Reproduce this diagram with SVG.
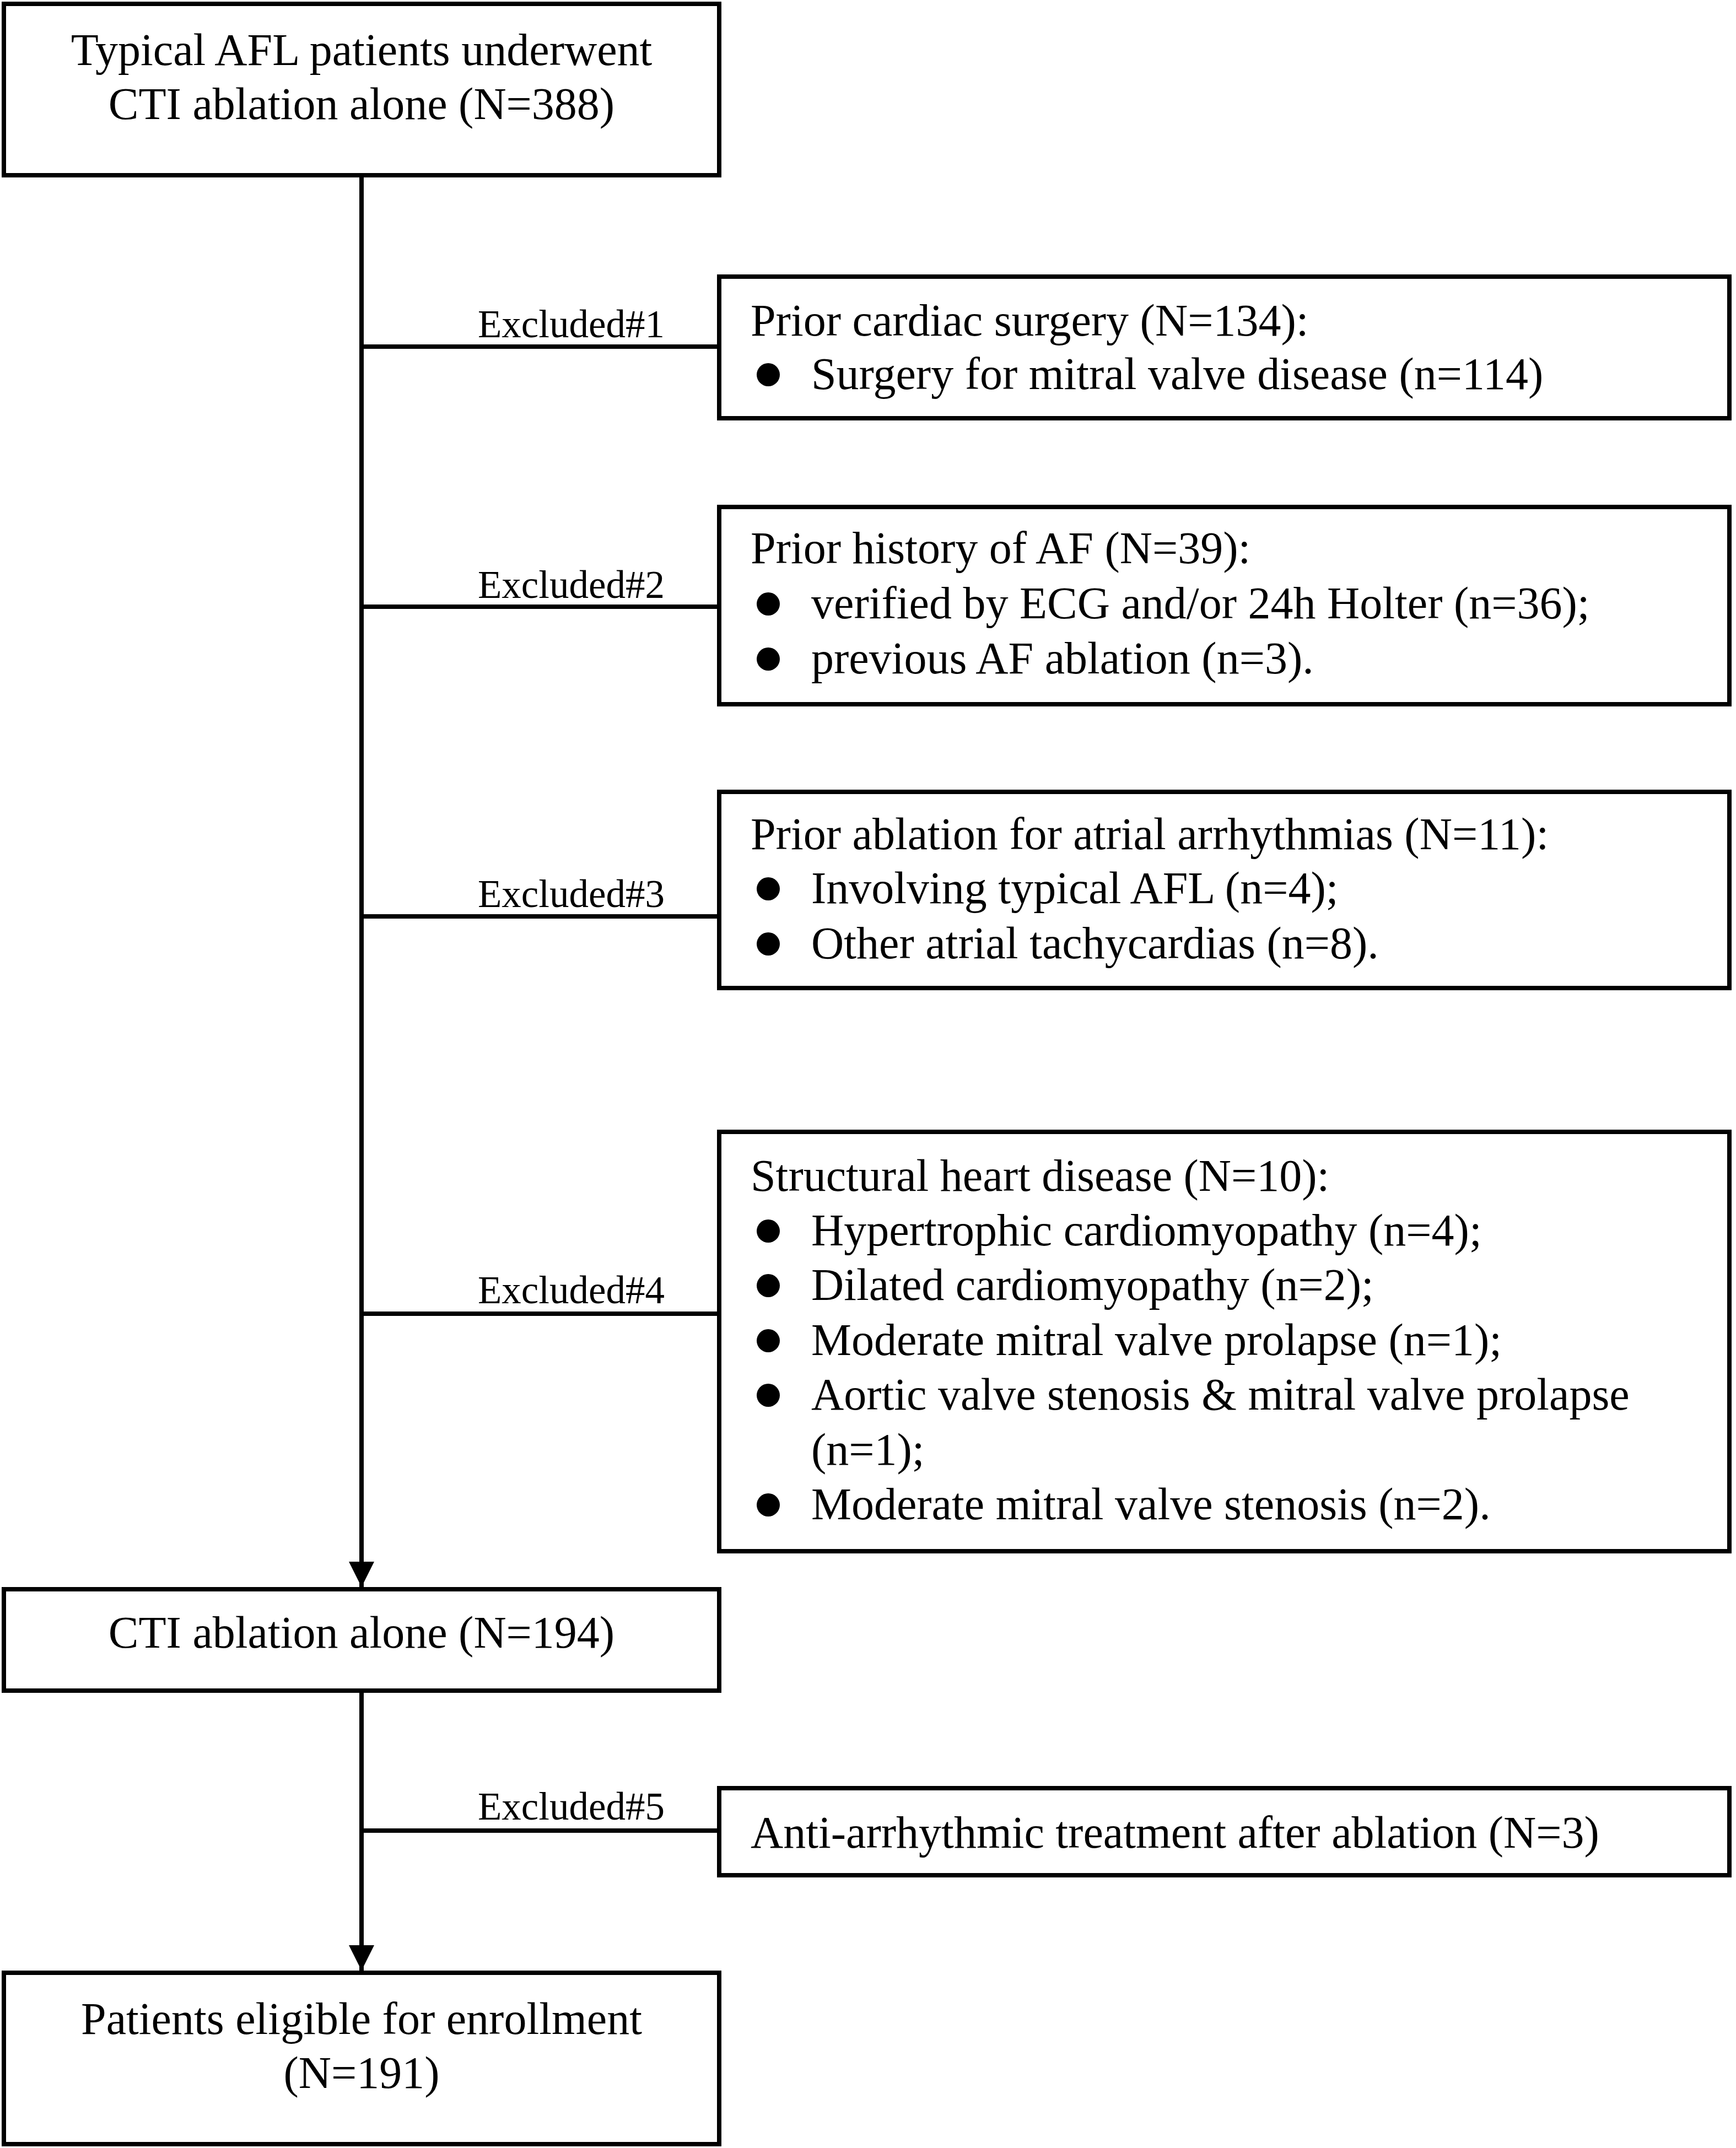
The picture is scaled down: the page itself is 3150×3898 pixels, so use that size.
<svg xmlns="http://www.w3.org/2000/svg" width="3150" height="3898" viewBox="0 0 3150 3898">
<style>
.box{fill:#fff;stroke:#000;stroke-width:8}
.ln{stroke:#000;stroke-width:8;fill:none}
.t{font-family:"Liberation Serif","Times New Roman",serif;font-size:82px;fill:#000}
.c{text-anchor:middle}
.lab{font-family:"Liberation Serif","Times New Roman",serif;font-size:71px;fill:#000;text-anchor:end}
.b{fill:#000}
</style>
<defs>
<marker id="arr" viewBox="0 0 46 46" refX="46" refY="23" markerWidth="46" markerHeight="46" orient="auto" markerUnits="userSpaceOnUse">
<path d="M0,0 L46,23 L0,46 z" fill="#000"/>
</marker>
</defs>
<rect width="3150" height="3898" fill="#fff"/>
<g id="connectors">
<line class="ln" x1="656" y1="318" x2="656" y2="2880" marker-end="url(#arr)"/>
<line class="ln" x1="656" y1="3068" x2="656" y2="3576" marker-end="url(#arr)"/>
<line class="ln" x1="656" y1="629" x2="1305" y2="629"/>
<line class="ln" x1="656" y1="1101" x2="1305" y2="1101"/>
<line class="ln" x1="656" y1="1663" x2="1305" y2="1663"/>
<line class="ln" x1="656" y1="2384" x2="1305" y2="2384"/>
<line class="ln" x1="656" y1="3322" x2="1305" y2="3322"/>
<text class="lab" x="1206" y="612">Excluded#1</text>
<text class="lab" x="1206" y="1085">Excluded#2</text>
<text class="lab" x="1206" y="1646">Excluded#3</text>
<text class="lab" x="1206" y="2365">Excluded#4</text>
<text class="lab" x="1206" y="3302">Excluded#5</text>
</g>
<g id="start">
<rect class="box" x="7" y="7" width="1298" height="311"/>
<text class="t c" x="656" y="118">Typical AFL patients underwent</text>
<text class="t c" x="656" y="216">CTI ablation alone (N=388)</text>
</g>
<g id="excl1">
<rect class="box" x="1305" y="502" width="1833" height="257"/>
<text class="t" x="1362" y="609">Prior cardiac surgery (N=134):</text>
<circle class="b" cx="1394" cy="680" r="21"/>
<text class="t" x="1472" y="706">Surgery for mitral valve disease (n=114)</text>
</g>
<g id="excl2">
<rect class="box" x="1305" y="920" width="1833" height="358"/>
<text class="t" x="1362" y="1022">Prior history of AF (N=39):</text>
<circle class="b" cx="1394" cy="1096" r="21"/>
<text class="t" x="1472" y="1122">verified by ECG and/or 24h Holter (n=36);</text>
<circle class="b" cx="1394" cy="1196" r="21"/>
<text class="t" x="1472" y="1222">previous AF ablation (n=3).</text>
</g>
<g id="excl3">
<rect class="box" x="1305" y="1437" width="1833" height="356"/>
<text class="t" x="1362" y="1541">Prior ablation for atrial arrhythmias (N=11):</text>
<circle class="b" cx="1394" cy="1613" r="21"/>
<text class="t" x="1472" y="1639">Involving typical AFL (n=4);</text>
<circle class="b" cx="1394" cy="1713" r="21"/>
<text class="t" x="1472" y="1739">Other atrial tachycardias (n=8).</text>
</g>
<g id="excl4">
<rect class="box" x="1305" y="2054" width="1833" height="761"/>
<text class="t" x="1362" y="2161">Structural heart disease (N=10):</text>
<circle class="b" cx="1394" cy="2234" r="21"/>
<text class="t" x="1472" y="2260">Hypertrophic cardiomyopathy (n=4);</text>
<circle class="b" cx="1394" cy="2333" r="21"/>
<text class="t" x="1472" y="2359">Dilated cardiomyopathy (n=2);</text>
<circle class="b" cx="1394" cy="2433" r="21"/>
<text class="t" x="1472" y="2459">Moderate mitral valve prolapse (n=1);</text>
<circle class="b" cx="1394" cy="2532" r="21"/>
<text class="t" x="1472" y="2558">Aortic valve stenosis &amp; mitral valve prolapse</text>
<text class="t" x="1472" y="2658">(n=1);</text>
<circle class="b" cx="1394" cy="2731" r="21"/>
<text class="t" x="1472" y="2757">Moderate mitral valve stenosis (n=2).</text>
</g>
<g id="mid">
<rect class="box" x="7" y="2884" width="1298" height="184"/>
<text class="t c" x="656" y="2990">CTI ablation alone (N=194)</text>
</g>
<g id="excl5">
<rect class="box" x="1305" y="3245" width="1833" height="158"/>
<text class="t" x="1362" y="3353">Anti-arrhythmic treatment after ablation (N=3)</text>
</g>
<g id="final">
<rect class="box" x="7" y="3580" width="1298" height="311"/>
<text class="t c" x="656" y="3691">Patients eligible for enrollment</text>
<text class="t c" x="656" y="3789">(N=191)</text>
</g>
</svg>
